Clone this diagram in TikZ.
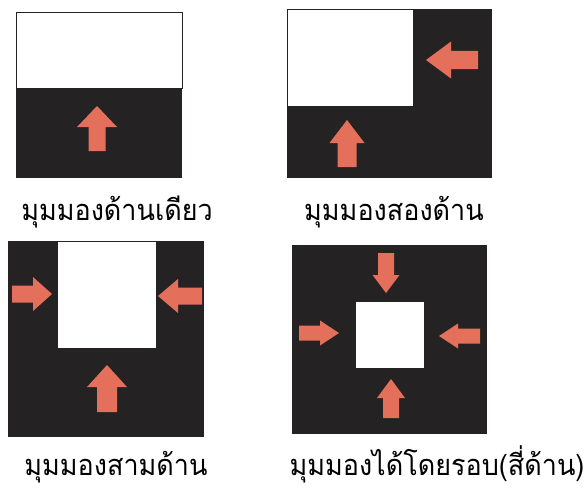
\documentclass[tikz,border=0pt]{standalone}
\usepackage{fontspec}
\newfontfamily\thaifont[Script=Thai,FakeStretch=0.93]{Loma}
\usetikzlibrary{positioning}
\definecolor{paneldark}{RGB}{36,34,34}
\definecolor{arrowsalmon}{RGB}{228,112,92}

% block arrow: tip, direction, length, head width, shaft width, head length
\newcommand{\pusharrow}[6]{%
  \fill[arrowsalmon, shift={(#1)}, rotate=#2]
    (0,0) -- (-#6,#4/2) -- (-#6,#5/2) -- (-#3,#5/2)
    -- (-#3,-#5/2) -- (-#6,-#5/2) -- (-#6,-#4/2) -- cycle;}

\begin{document}
\begin{tikzpicture}[
  x=1pt, y=-1pt,
  panel/.style={fill=paneldark},
  hole/.style={fill=white, draw=paneldark, line width=0.8pt},
  caption/.style={font=\thaifont\fontsize{29}{32}\selectfont, inner sep=0pt, anchor=base}
]
\useasboundingbox (0,0) rectangle (588,487);

% one side
\fill[panel] (16,12) rectangle (182,178);
\filldraw[hole] (16,12) rectangle (182,88);
\pusharrow{97,106}{90}{45}{40}{17}{21}
\node[caption] (oneside) at (117,220) {มุมมองด้านเดียว};

% two sides
\fill[panel] (287,9) rectangle (492,178);
\filldraw[hole] (287,9) rectangle (413,106);
\pusharrow{426,60}{180}{52}{37}{18}{25}
\pusharrow{347,120}{90}{47}{35}{19}{23}
\node[caption] (twosides) at (394,220) {มุมมองสองด้าน};

% three sides
\fill[panel] (8,241) rectangle (204,437);
\filldraw[hole] (57,241) rectangle (156,348);
\pusharrow{52,294}{0}{40}{34}{17}{19}
\pusharrow{158,296}{180}{44}{34}{17}{20}
\pusharrow{107,365}{90}{47}{40}{20}{22}
\node[caption] (threesides) at (116,475) {มุมมองสามด้าน};

% all around
\fill[panel] (292,245) rectangle (487,434);
\filldraw[hole] (355,301) rectangle (424,368);
\pusharrow{386,293}{270}{40}{27}{16}{18}
\pusharrow{339,333}{0}{40}{25}{15}{19}
\pusharrow{439,336}{180}{41}{25}{15}{19}
\pusharrow{391,379}{90}{39}{28}{16}{19}
\node[caption] (allsides) at (437,475) {มุมมองได้โดยรอบ(สี่ด้าน)};
\end{tikzpicture}
\end{document}
